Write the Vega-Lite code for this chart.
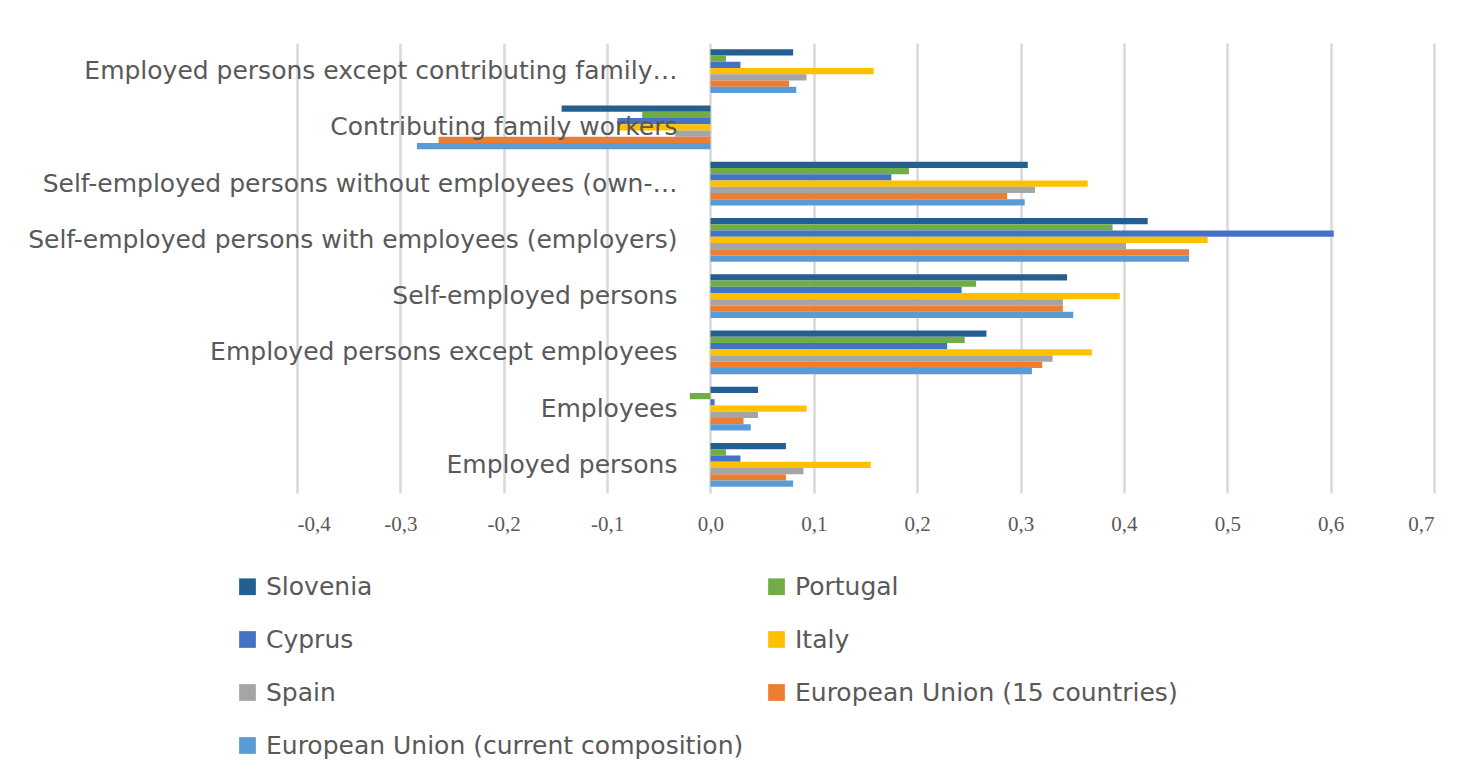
{
  "$schema": "https://vega.github.io/schema/vega-lite/v6.json",
  "autosize": {"type": "none"},
  "width": 1137,
  "height": 450,
  "padding": {"left": 297, "top": 43, "right": 50, "bottom": 287},
  "background": "white",
  "config": {"view": {"stroke": null}},
  "data": {"values": [
    {"c": "Employed persons except contributing family…", "s": "Slovenia", "v": 0.080},
    {"c": "Employed persons except contributing family…", "s": "Portugal", "v": 0.015},
    {"c": "Employed persons except contributing family…", "s": "Cyprus", "v": 0.029},
    {"c": "Employed persons except contributing family…", "s": "Italy", "v": 0.158},
    {"c": "Employed persons except contributing family…", "s": "Spain", "v": 0.093},
    {"c": "Employed persons except contributing family…", "s": "European Union (15 countries)", "v": 0.076},
    {"c": "Employed persons except contributing family…", "s": "European Union (current composition)", "v": 0.083},
    {"c": "Contributing family workers", "s": "Slovenia", "v": -0.144},
    {"c": "Contributing family workers", "s": "Portugal", "v": -0.066},
    {"c": "Contributing family workers", "s": "Cyprus", "v": -0.090},
    {"c": "Contributing family workers", "s": "Italy", "v": -0.090},
    {"c": "Contributing family workers", "s": "Spain", "v": -0.034},
    {"c": "Contributing family workers", "s": "European Union (15 countries)", "v": -0.263},
    {"c": "Contributing family workers", "s": "European Union (current composition)", "v": -0.284},
    {"c": "Self-employed persons without employees (own-…", "s": "Slovenia", "v": 0.307},
    {"c": "Self-employed persons without employees (own-…", "s": "Portugal", "v": 0.192},
    {"c": "Self-employed persons without employees (own-…", "s": "Cyprus", "v": 0.175},
    {"c": "Self-employed persons without employees (own-…", "s": "Italy", "v": 0.365},
    {"c": "Self-employed persons without employees (own-…", "s": "Spain", "v": 0.314},
    {"c": "Self-employed persons without employees (own-…", "s": "European Union (15 countries)", "v": 0.287},
    {"c": "Self-employed persons without employees (own-…", "s": "European Union (current composition)", "v": 0.304},
    {"c": "Self-employed persons with employees (employers)", "s": "Slovenia", "v": 0.423},
    {"c": "Self-employed persons with employees (employers)", "s": "Portugal", "v": 0.389},
    {"c": "Self-employed persons with employees (employers)", "s": "Cyprus", "v": 0.603},
    {"c": "Self-employed persons with employees (employers)", "s": "Italy", "v": 0.481},
    {"c": "Self-employed persons with employees (employers)", "s": "Spain", "v": 0.402},
    {"c": "Self-employed persons with employees (employers)", "s": "European Union (15 countries)", "v": 0.463},
    {"c": "Self-employed persons with employees (employers)", "s": "European Union (current composition)", "v": 0.463},
    {"c": "Self-employed persons", "s": "Slovenia", "v": 0.345},
    {"c": "Self-employed persons", "s": "Portugal", "v": 0.257},
    {"c": "Self-employed persons", "s": "Cyprus", "v": 0.243},
    {"c": "Self-employed persons", "s": "Italy", "v": 0.396},
    {"c": "Self-employed persons", "s": "Spain", "v": 0.341},
    {"c": "Self-employed persons", "s": "European Union (15 countries)", "v": 0.341},
    {"c": "Self-employed persons", "s": "European Union (current composition)", "v": 0.351},
    {"c": "Employed persons except employees", "s": "Slovenia", "v": 0.267},
    {"c": "Employed persons except employees", "s": "Portugal", "v": 0.246},
    {"c": "Employed persons except employees", "s": "Cyprus", "v": 0.229},
    {"c": "Employed persons except employees", "s": "Italy", "v": 0.369},
    {"c": "Employed persons except employees", "s": "Spain", "v": 0.331},
    {"c": "Employed persons except employees", "s": "European Union (15 countries)", "v": 0.321},
    {"c": "Employed persons except employees", "s": "European Union (current composition)", "v": 0.311},
    {"c": "Employees", "s": "Slovenia", "v": 0.046},
    {"c": "Employees", "s": "Portugal", "v": -0.020},
    {"c": "Employees", "s": "Cyprus", "v": 0.004},
    {"c": "Employees", "s": "Italy", "v": 0.093},
    {"c": "Employees", "s": "Spain", "v": 0.046},
    {"c": "Employees", "s": "European Union (15 countries)", "v": 0.032},
    {"c": "Employees", "s": "European Union (current composition)", "v": 0.039},
    {"c": "Employed persons", "s": "Slovenia", "v": 0.073},
    {"c": "Employed persons", "s": "Portugal", "v": 0.015},
    {"c": "Employed persons", "s": "Cyprus", "v": 0.029},
    {"c": "Employed persons", "s": "Italy", "v": 0.155},
    {"c": "Employed persons", "s": "Spain", "v": 0.090},
    {"c": "Employed persons", "s": "European Union (15 countries)", "v": 0.073},
    {"c": "Employed persons", "s": "European Union (current composition)", "v": 0.080}
  ]},
  "mark": {"type": "bar"},
  "encoding": {
    "y": {
      "field": "c", "type": "nominal",
      "sort": ["Employed persons except contributing family…", "Contributing family workers", "Self-employed persons without employees (own-…", "Self-employed persons with employees (employers)", "Self-employed persons", "Employed persons except employees", "Employees", "Employed persons"],
      "scale": {"paddingInner": 0.22, "paddingOuter": 0.11},
      "axis": {"title": null, "offset": -413, "domain": false, "ticks": false, "labelPadding": 33, "labelFont": "DejaVu Sans", "labelFontSize": 25, "labelColor": "#595959", "labelLimit": 800, "zindex": 1}
    },
    "yOffset": {
      "field": "s", "type": "nominal",
      "sort": ["Slovenia", "Portugal", "Cyprus", "Italy", "Spain", "European Union (15 countries)", "European Union (current composition)"],
      "scale": {"paddingInner": 0}
    },
    "x": {
      "field": "v", "type": "quantitative",
      "scale": {"domain": [-0.4, 0.7], "nice": false, "zero": false},
      "axis": {"title": null, "values": [-0.4, -0.3, -0.2, -0.1, 0, 0.1, 0.2, 0.3, 0.4, 0.5, 0.6, 0.7], "domain": false, "ticks": false, "grid": true, "gridColor": "#d9d9d9", "gridWidth": 2.5, "labelFont": "Liberation Serif", "labelFontSize": 21, "labelColor": "#595959", "labelPadding": 20, "labelExpr": "replace(replace(format(datum.value, '.1f'), '.', ','), '\u2212', '-')"}
    },
    "color": {
      "field": "s", "type": "nominal",
      "sort": ["Slovenia", "Portugal", "Cyprus", "Italy", "Spain", "European Union (15 countries)", "European Union (current composition)"],
      "scale": {"domain": ["Slovenia", "Portugal", "Cyprus", "Italy", "Spain", "European Union (15 countries)", "European Union (current composition)"], "range": ["#255E91", "#70AD47", "#4472C4", "#FFC000", "#A5A5A5", "#ED7D31", "#5B9BD5"]},
      "legend": {"title": null, "orient": "none", "direction": "horizontal", "legendX": -62, "legendY": 531, "columns": 2, "gridAlign": "all", "columnPadding": 20, "rowPadding": 27, "symbolType": "square", "symbolSize": 280, "symbolStrokeWidth": 0, "labelFont": "DejaVu Sans", "labelFontSize": 25, "labelColor": "#595959", "labelLimit": 600, "labelOffset": 6}
    }
  }
}
